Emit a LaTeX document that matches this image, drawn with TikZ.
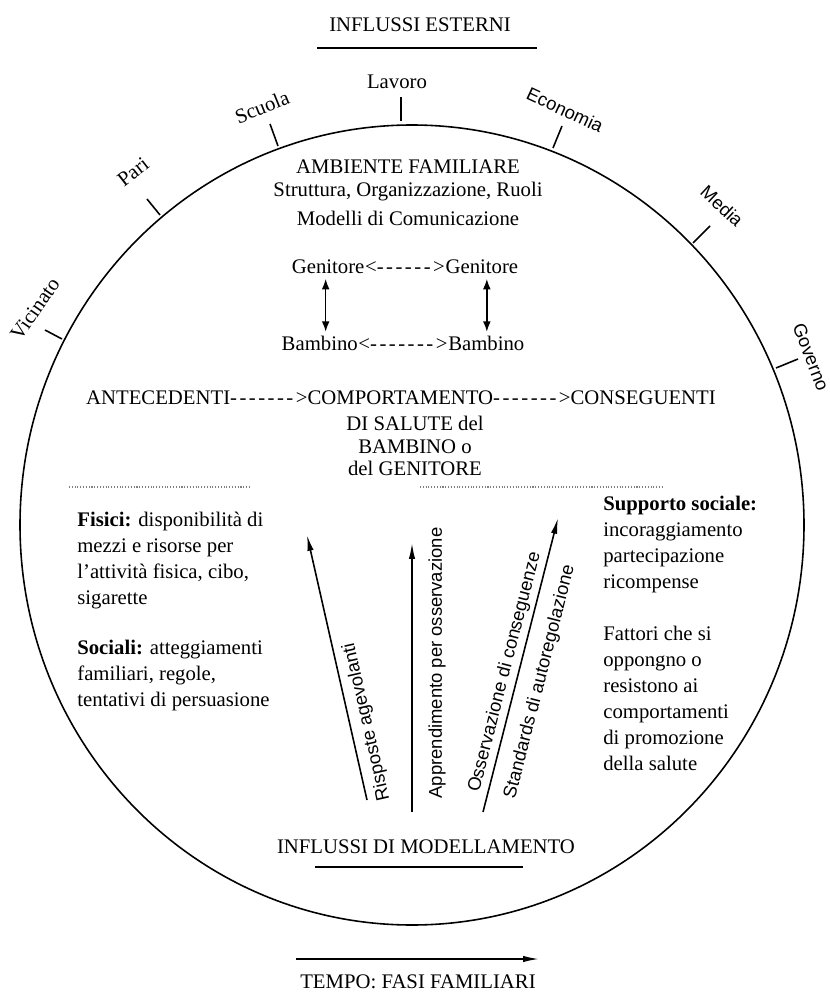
\documentclass[tikz,border=0pt]{standalone}
\usepackage{fontspec}
\setmainfont{Liberation Serif}
\setsansfont{Liberation Sans}
\usetikzlibrary{arrows.meta}

\newcommand\tratti[1]{\foreach \n in {1,...,#1}{-\kern.12em}}

\tikzset{
  testo/.style={inner sep=0pt, font=\fontsize{11.8}{14.8}\selectfont},
  ruotato/.style={inner sep=0pt, font=\sffamily\fontsize{10.5}{12.6}\selectfont},
  linea/.style={line width=0.9pt},
  freccia/.style={line width=0.9pt, -{Latex[length=9pt,width=3.6pt]}},
  doppia/.style={line width=0.9pt, {Latex[length=6pt,width=4.5pt]}-{Latex[length=6pt,width=4.5pt]}, shorten <=2.5pt, shorten >=2.5pt},
  separa/.style={densely dotted, gray, line width=0.6pt}
}

\begin{document}
\begin{tikzpicture}[x=0.02cm, y=-0.02cm]
  \tikzstyle{every node}+=[testo]
  \useasboundingbox (0,0) rectangle (829,993);

  \node (esterni) at (420,25) {INFLUSSI ESTERNI};
  \draw [linea] (317,48) -- (537,48);

  \draw [linea] (412,525) ellipse [x radius=392, y radius=400];

  \draw [linea] (401,97) -- (401,121);
  \node (lavoro) at (397,82) {Lavoro};
  \draw [linea] (270,124) -- (278,146);
  \node [rotate=22] (scuola) at (262,107) {Scuola};
  \draw [linea] (147,199) -- (160,215);
  \node [rotate=38] (pari) at (133,172) {Pari};
  \draw [linea] (45,330) -- (62,339);
  \node [rotate=55] (vicinato) at (35,309) {Vicinato};
  \draw [linea] (562,126) -- (553,148);
  \node [ruotato, rotate=-25] (economia) at (565,110) {Economia};
  \draw [linea] (710,226) -- (693,243);
  \node [ruotato, rotate=-43] (media) at (722,206) {Media};
  \draw [linea] (798,359) -- (776,368);
  \node [ruotato, rotate=-69] (governo) at (811,357) {Governo};

  \node (ambiente) at (408,167) {AMBIENTE FAMILIARE};
  \node (struttura) at (408,192) {Struttura, Organizzazione, Ruoli};
  \node (modelli) at (408,218) {Modelli di Comunicazione};

  \node (gd) at (405,268) {<\tratti{6}>};
  \node [anchor=base east] (g1) at (gd.base west) {Genitore};
  \node [anchor=base west] (g2) at (gd.base east) {Genitore};
  \node (bd) at (403,345) {<\tratti{7}>};
  \node [anchor=base east] (b1) at (bd.base west) {Bambino};
  \node [anchor=base west] (b2) at (bd.base east) {Bambino};
  \draw [doppia] ([xshift=-0.05cm]g1.south) -- ([xshift=-0.05cm]g1.south |- b1.north);
  \draw [doppia] ([xshift=0.1cm]g2.south) -- ([xshift=0.1cm]g2.south |- b2.north);

  \node (catena) at (401,398) {ANTECEDENTI\tratti{7}>COMPORTAMENTO\tratti{7}>CONSEGUENTI};
  \node [align=center, font=\fontsize{11.8}{12.8}\selectfont] (salute) at (415,446) {DI SALUTE del\\BAMBINO o\\del GENITORE};

  \draw [separa] (69,487) -- (251,487);
  \draw [separa] (420,487) -- (664,487);

  \node [align=left, anchor=west] (fisici) at (77,561) {\textbf{Fisici:} disponibilità di\\mezzi e risorse per\\l'attività fisica, cibo,\\sigarette};
  \node [align=left, anchor=west] (sociali) at (77,676) {\textbf{Sociali:} atteggiamenti\\familiari, regole,\\tentativi di persuasione};
  \node [align=left, anchor=west] (supporto) at (603,545) {\textbf{Supporto sociale:}\\incoraggiamento\\partecipazione\\ricompense};
  \node [align=left, anchor=west] (fattori) at (603,698) {Fattori che si\\oppongno o\\resistono ai\\comportamenti\\di promozione\\della salute};

  \coordinate (r0) at (367,800);
  \coordinate (r1) at (307,535);
  \draw [freccia] (r0) -- (r1);
  \node [ruotato, rotate=102.8] (risposte) at (367,722) {Risposte agevolanti};
  \coordinate (a0) at (412,812);
  \coordinate (a1) at (412,543);
  \draw [freccia] (a0) -- (a1);
  \node [ruotato, rotate=90] (apprend) at (437,663) {Apprendimento per osservazione};
  \coordinate (o0) at (483,812);
  \coordinate (o1) at (558,518);
  \draw [freccia] (o0) -- (o1);
  \node [ruotato, rotate=75.7] (osserva) at (505,672) {Osservazione di conseguenze};
  \node [ruotato, rotate=75.7] (standards) at (540,682) {Standards di autoregolazione};

  \node (modella) at (426,847) {INFLUSSI DI MODELLAMENTO};
  \draw [linea] (315,867) -- (523,867);

  \coordinate (t0) at (296,959);
  \coordinate (t1) at (539,959);
  \draw [freccia] (t0) -- (t1);
  \node (tempo) at (418,982) {TEMPO: FASI FAMILIARI};
\end{tikzpicture}
\end{document}
